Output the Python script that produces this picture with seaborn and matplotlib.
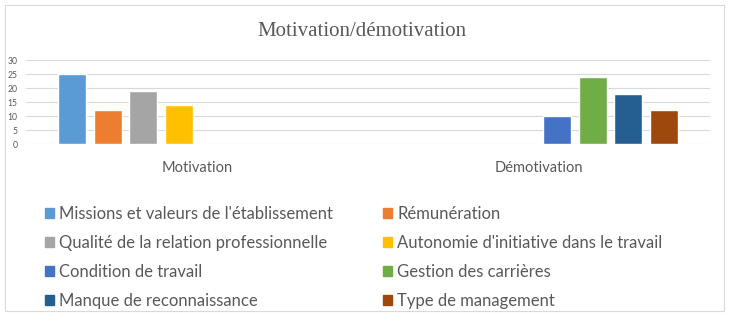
import matplotlib
matplotlib.use("Agg")
import matplotlib.pyplot as plt
import matplotlib.patches as mpatches
import seaborn as sns
import pandas as pd

categories = ["Motivation", "Démotivation"]
series = ["Missions et valeurs de l'établissement", "Rémunération",
          "Qualité de la relation professionnelle", "Autonomie d'initiative dans le travail",
          "Condition de travail", "Gestion des carrières",
          "Manque de reconnaissance", "Type de management"]
series_category = ["Motivation"] * 4 + ["Démotivation"] * 4
values = [25, 12, 19, 14, 10, 24, 18, 12]
colors = ["#5B9BD5", "#ED7D31", "#A5A5A5", "#FFC000",
          "#4472C4", "#70AD47", "#255E91", "#9E480E"]
yticks = [0, 5, 10, 15, 20, 25, 30]

df = pd.DataFrame({"cat": series_category, "serie": series, "val": values})

sns.set_theme(style="white")
plt.rcParams["font.family"] = ["Lato", "DejaVu Sans"]

fig = plt.figure(figsize=(7.29, 3.13), dpi=100)
ax = fig.add_axes([26 / 729, 1 - 144 / 313, (710 - 26) / 729, 84 / 313])

sns.barplot(data=df, x="cat", y="val", hue="serie", order=categories,
            hue_order=series, palette=colors, width=0.836, gap=0.216,
            dodge=True, ax=ax, legend=False, saturation=1, err_kws={"linewidth": 0})

ax.set_ylim(0, 30)
ax.set_xlim(-0.5, 1.5)
ax.set_yticks(yticks)
ax.set_yticklabels([str(t) for t in yticks])
ax.set_xlabel("")
ax.set_ylabel("")
for t in yticks:
    ax.axhline(t, color="#d9d9d9", lw=0.8, zorder=0)
for s in ax.spines.values():
    s.set_visible(False)
ax.tick_params(axis="y", length=0, labelsize=6.2, labelcolor="#595959", pad=6)
ax.tick_params(axis="x", length=0, labelsize=10.5, labelcolor="#595959", pad=12)

fig.text(0.497, 1 - 31 / 313, "Motivation/démotivation", ha="center", va="center",
         fontsize=15, color="#595959", family=["Liberation Serif", "DejaVu Serif"])

handles = [mpatches.Patch(color=c, label=s) for c, s in zip(colors, series)]
order = [0, 2, 4, 6, 1, 3, 5, 7]
fig.legend([handles[i] for i in order], [series[i] for i in order],
           ncol=2, loc="upper left", bbox_to_anchor=(45 / 729, 1 - 206 / 313),
           frameon=False, fontsize=12, labelcolor="#595959",
           handlelength=0.55, handleheight=0.55, handletextpad=0.3,
           columnspacing=3.0, labelspacing=0.78, borderaxespad=0, borderpad=0)

fig.add_artist(mpatches.Rectangle((5 / 729, 2 / 313), 719 / 729, 306 / 313,
                                  transform=fig.transFigure, fill=False,
                                  edgecolor="#d9d9d9", lw=0.8))

fig.savefig("out.png", dpi=100)
